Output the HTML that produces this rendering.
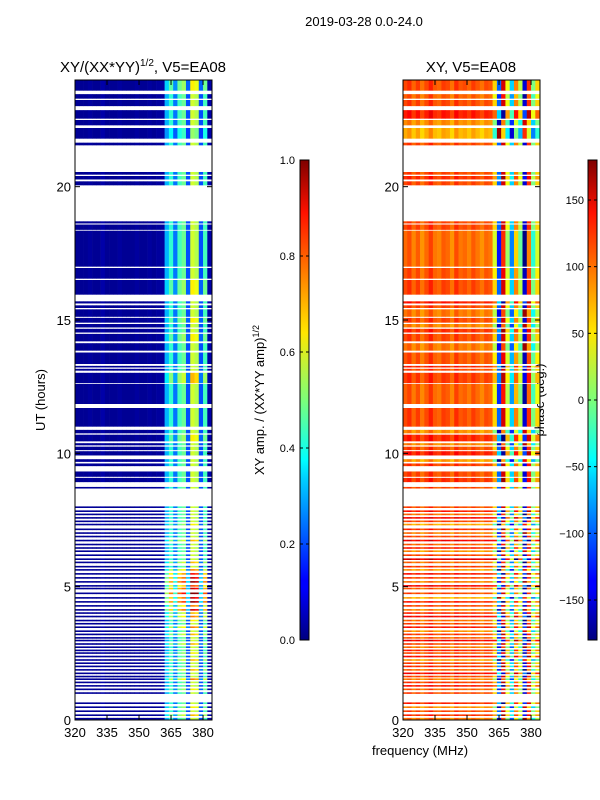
<!DOCTYPE html>
<html><head><meta charset="utf-8"><style>
body{margin:0;background:#fff;}
svg{display:block;font-family:"Liberation Sans","DejaVu Sans",sans-serif;}
</style></head><body>
<svg id="fig" width="600" height="800">
<defs>
<linearGradient id="jetv" x1="0" y1="1" x2="0" y2="0">
<stop offset="0" stop-color="#00007f"/><stop offset="0.11" stop-color="#0000ff"/><stop offset="0.125" stop-color="#0000ff"/>
<stop offset="0.34" stop-color="#00d4ff"/><stop offset="0.375" stop-color="#00ffff"/><stop offset="0.5" stop-color="#7cff79"/>
<stop offset="0.64" stop-color="#ffe600"/><stop offset="0.66" stop-color="#ffd700"/><stop offset="0.89" stop-color="#ff1100"/><stop offset="1" stop-color="#7f0000"/>
</linearGradient>
</defs>
<text x="364" y="26" font-size="13" text-anchor="middle">2019-03-28 0.0-24.0</text>
<text x="143" y="72" font-size="15" text-anchor="middle">XY/(XX*YY)<tspan dy="-6" font-size="10">1/2</tspan><tspan dy="6">, V5=EA08</tspan></text>
<text x="471" y="72" font-size="15" text-anchor="middle">XY, V5=EA08</text>
<text transform="translate(45,400) rotate(-90)" font-size="13" text-anchor="middle">UT (hours)</text>
<text x="420" y="755" font-size="13" text-anchor="middle">frequency (MHz)</text>
<text transform="translate(264,400) rotate(-90)" font-size="13" text-anchor="middle">XY amp. / (XX*YY amp)<tspan dy="-5" font-size="9">1/2</tspan></text>
<text transform="translate(544,400) rotate(-90)" font-size="13" text-anchor="middle">phase (deg.)</text>
<g id="left"></g>
<g id="right"></g>
<g id="axes"></g>
</svg>
<script>
// ---- data ----
const freqEdges = [320,322,324,326,328,330,332,334,336,338,340,342,344,346,348,350,352,354,356,358,360,362,364,366,368,370,372,374,376,378,380,382,384];
const ampProfile = [0.02,0.02,0.02,0.03,0.02,0.02,0.04,0.02,0.02,0.02,0.03,0.02,0.02,0.02,0.03,0.02,0.02,0.03,0.02,0.03,0.03,0.3,0.42,0.24,0.44,0.48,0.2,0.58,0.55,0.2,0.44,0.04];
const phaseProfile = [110,120,100,115,95,110,125,105,100,115,110,95,120,105,110,100,115,105,95,110,105,60,-100,150,40,-60,90,20,-150,120,0,60];
const blockStart = [23.6,23.3,23.02,22.55,22.3,21.8,21.55,20.45,20.27,20.05,18.62,18.38,17.0,16.55,15.95,15.62,15.45,15.12,14.9,14.72,14.53,14.2,13.85,13.35,13.22,13.1,12.63,11.85,11.0,10.75,10.45,10.3,10.12,9.92,9.68,9.52,9.12,8.92,8.68];
const blockEnd   = [24.0,23.47,23.25,22.87,22.5,22.2,21.65,20.55,20.4,20.2,18.7,18.58,18.35,16.95,16.5,15.7,15.55,15.4,15.08,14.85,14.67,14.48,14.13,13.78,13.28,13.17,13.02,12.6,11.7,10.88,10.7,10.38,10.25,10.08,9.78,9.62,9.32,9.08,8.74];
const blockGain  = [1.1,1.0,1.0,1.0,1.0,0.9,1.0,1.0,1.0,1.0,1.0,1.0,1.0,1.0,1.1,1.0,1.0,1.0,1.1,1.0,1.0,1.1,1.0,1.0,1.0,1.0,1.2,1.0,1.0,1.0,1.1,1.0,1.0,1.0,1.0,1.0,1.0,1.0,1.0];
const blockPhase = [0,-20,0,40,-60,-90,0,0,20,0,0,0,-30,-10,0,40,0,-40,0,-50,20,0,-40,-10,30,0,10,-20,0,-60,30,-50,0,40,-70,10,0,20,0];
const lineStart = [7.95,7.8,7.68,7.55,7.42,7.3,7.12,6.98,6.85,6.7,6.55,6.42,6.3,6.15,6.0,5.88,5.72,5.6,5.45,5.3,5.15,5.0,4.9,4.72,4.55,4.4,4.25,4.1,3.98,3.85,3.7,3.58,3.45,3.3,3.18,3.05,2.95,2.82,2.7,2.58,2.48,2.35,2.22,2.1,1.98,1.85,1.72,1.6,1.5,1.38,1.25,1.12,0.98,0.6,0.45,0.3,0.15,0.02];
const lineGain  = [1,1,1,1,1,1.1,1,1,1,1.2,1,1,1,1,1,1.2,1,1.3,1.5,1.6,1.7,1.4,1.6,1.8,1.6,1.7,1.3,1.6,1.2,1.3,1.1,1,1.3,1,1.2,1,1,1.2,1,1,1.1,1,1.2,1,1,1.2,1,1,1.3,1,1,1.1,1,1,1.1,1,1.2,1];
const linePhase = [0,40,-30,60,0,-80,20,-40,0,70,-20,30,-60,0,90,-30,10,-70,40,0,-40,60,-20,0,-90,30,0,-50,20,60,-30,0,40,-60,10,-20,70,0,-40,30,-10,50,-70,0,20,-30,60,0,-50,10,40,-20,0,30,-60,0,20,-40];
const ampTicks = [0.0,0.2,0.4,0.6,0.8,1.0];
const phaseTicks = [-150,-100,-50,0,50,100,150];
const timeTicks = [0,5,10,15,20];
const freqTicks = [320,335,350,365,380];
const lineThick = 0.06;

// ---- helpers ----
const NS='http://www.w3.org/2000/svg';
function jet(v){v=Math.max(0,Math.min(1,v));const c=x=>Math.round(255*Math.max(0,Math.min(1,x)));
 return `rgb(${c(1.5-Math.abs(4*v-3))},${c(1.5-Math.abs(4*v-2))},${c(1.5-Math.abs(4*v-1))})`;}
function mk(tag,attrs,parent){const e=document.createElementNS(NS,tag);for(const k in attrs)e.setAttribute(k,attrs[k]);parent.appendChild(e);return e;}
const Y0=80,Y1=720;
const yScale=h=>Y1-(h/24)*(Y1-Y0);
function xScaleFor(x0){return f=>x0+(f-320)*(137/64.2);}
const panels=[{x0:75,g:'left',kind:'amp'},{x0:403,g:'right',kind:'phase'}];
const rows=[];
blockStart.forEach((s,i)=>rows.push([s,blockEnd[i],blockGain[i],blockPhase[i]]));
lineStart.forEach((s,i)=>rows.push([s,s+lineThick,lineGain[i],linePhase[i]]));
panels.forEach(p=>{
 const g=document.getElementById(p.g);const xs=xScaleFor(p.x0);
 rows.forEach(r=>{
  const yt=yScale(r[1]),yb=yScale(r[0]);
  for(let c=0;c<ampProfile.length;c++){
   let col;
   if(p.kind==='amp'){const b=ampProfile[c];col=jet(b<0.1?b:b*r[2]);}
   else{let ph=phaseProfile[c]+(c>=21?r[3]:r[3]*0.4);ph=((ph+180)%360+360)%360-180;col=jet((ph+180)/360);}
   const x1=xs(freqEdges[c]),x2=Math.min(xs(freqEdges[c+1]),p.x0+137);
   const el=mk('rect',{x:x1.toFixed(2),y:yt.toFixed(2),width:(x2-x1+0.3).toFixed(2),height:Math.max(1,yb-yt).toFixed(2),fill:col},g);
   
   
  }
 });
});
// axes frames & ticks
const ax=document.getElementById('axes');
panels.forEach(p=>{
 const xs=xScaleFor(p.x0);
 const fr=mk('rect',{x:p.x0,y:Y0,width:137,height:Y1-Y0,fill:'none',stroke:'#000','stroke-width':1},ax);
 
 
 timeTicks.forEach(t=>{const y=yScale(t);
  mk('line',{x1:p.x0,x2:p.x0+5,y1:y,y2:y,stroke:'#000'},ax);mk('line',{x1:p.x0+137,x2:p.x0+132,y1:y,y2:y,stroke:'#000'},ax);
  const tx=mk('text',{x:p.x0-4,y:y+5,'font-size':13,'text-anchor':'end'},ax);tx.textContent=t;
  
  });
 freqTicks.forEach(f=>{const x=xs(f);
  mk('line',{x1:x,x2:x,y1:Y1,y2:Y1-5,stroke:'#000'},ax);mk('line',{x1:x,x2:x,y1:Y0,y2:Y0+5,stroke:'#000'},ax);
  const tx=mk('text',{x:x,y:Y1+17,'font-size':13,'text-anchor':'middle'},ax);tx.textContent=f;
  
  });
});
// colorbars
const cbs=[{x:300,ticks:ampTicks,min:0,max:1,fmt:v=>v.toFixed(1),name:'amp-colorbar'},{x:588,ticks:phaseTicks,min:-180,max:180,fmt:v=>String(v).replace('-','\u2212'),name:'phase-colorbar'}];
cbs.forEach(cb=>{
 const r=mk('rect',{x:cb.x,y:160,width:9,height:480,fill:'url(#jetv)',stroke:'#000','stroke-width':1},ax);
 
 
 cb.ticks.forEach(v=>{const y=640-(v-cb.min)/(cb.max-cb.min)*480;
  mk('line',{x1:cb.x,x2:cb.x+3,y1:y,y2:y,stroke:'#000'},ax);mk('line',{x1:cb.x+9,x2:cb.x+6,y1:y,y2:y,stroke:'#000'},ax);
  const tx=mk('text',{x:cb.x-5,y:y+4,'font-size':11,'text-anchor':'end'},ax);
  if(cb.name==='phase-colorbar'){tx.setAttribute('x',cb.x-4);}
  tx.textContent=cb.fmt(v);
  
  });
});
</script>
</body></html>
